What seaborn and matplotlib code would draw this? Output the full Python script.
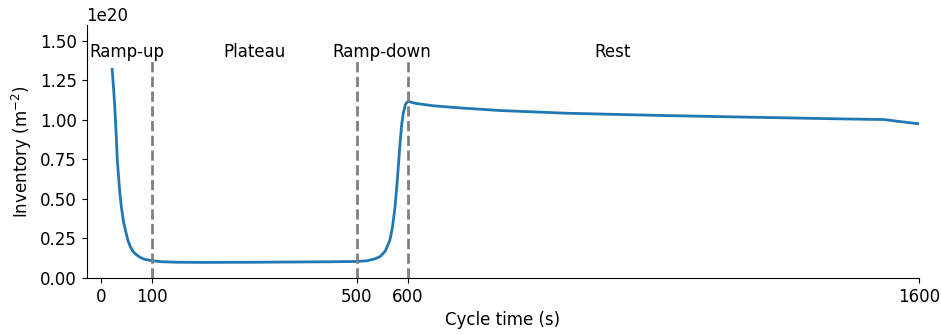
import numpy as np
import pandas as pd
import matplotlib
matplotlib.use("Agg")
import matplotlib.pyplot as plt
import seaborn as sns

# Data (inventory in units of 1e20 m^-2)
time_s = [22, 25, 27.5, 30, 32, 35, 37, 40, 44, 48, 53, 58, 63, 70, 76, 85,
          100, 120, 150, 200, 300, 400, 450, 500, 520, 535, 546, 556, 565,
          570, 575, 579, 582, 585, 588, 591, 595, 598, 601, 610, 620, 650,
          700, 781, 850, 911, 1000, 1094, 1200, 1335, 1450, 1531, 1560, 1600]
inventory = [1.32, 1.19, 1.06, 0.90, 0.75, 0.62, 0.54, 0.45, 0.36, 0.30,
             0.235, 0.195, 0.166, 0.145, 0.131, 0.118, 0.108, 0.102, 0.099,
             0.098, 0.099, 0.101, 0.102, 0.104, 0.108, 0.120, 0.135, 0.17,
             0.24, 0.32, 0.45, 0.60, 0.73, 0.86, 0.97, 1.04, 1.095, 1.11,
             1.118, 1.108, 1.102, 1.089, 1.076, 1.059, 1.050, 1.042, 1.035,
             1.028, 1.021, 1.013, 1.006, 1.002, 0.99, 0.975]
phase_bounds = [100, 500, 600]
phase_names = ["Ramp-up", "Plateau", "Ramp-down", "Rest"]
phase_label_x = [50, 300, 550, 1000]
xticks = [0, 100, 500, 600, 1600]
yticks = [0, 0.25, 0.5, 0.75, 1.0, 1.25, 1.5]

df = pd.DataFrame({"t": time_s, "inv": np.array(inventory) * 1e20})

plt.rcParams["font.family"] = ["DejaVu Sans"]
plt.rcParams["font.size"] = 12

fig, ax = plt.subplots(figsize=(9.41, 3.34), dpi=100)
sns.lineplot(data=df, x="t", y="inv", ax=ax, color="tab:blue", linewidth=2)

for b in phase_bounds:
    ax.vlines(b, 0, 1.4e20, colors="grey", linestyles="dashed", linewidth=2)
for name, xp in zip(phase_names, phase_label_x):
    ax.text(xp, 1.43e20, name, ha="center", va="center")

ax.set_xlim(-28, 1600)
ax.set_ylim(0, 1.6e20)
ax.set_xticks(xticks)
ax.set_yticks(np.array(yticks) * 1e20)
ax.set_xlabel("Cycle time (s)")
ax.set_ylabel("Inventory (m$^{-2}$)")
sns.despine()

fig.subplots_adjust(left=0.092, right=0.977, top=0.925, bottom=0.168)
fig.savefig("out.png")
